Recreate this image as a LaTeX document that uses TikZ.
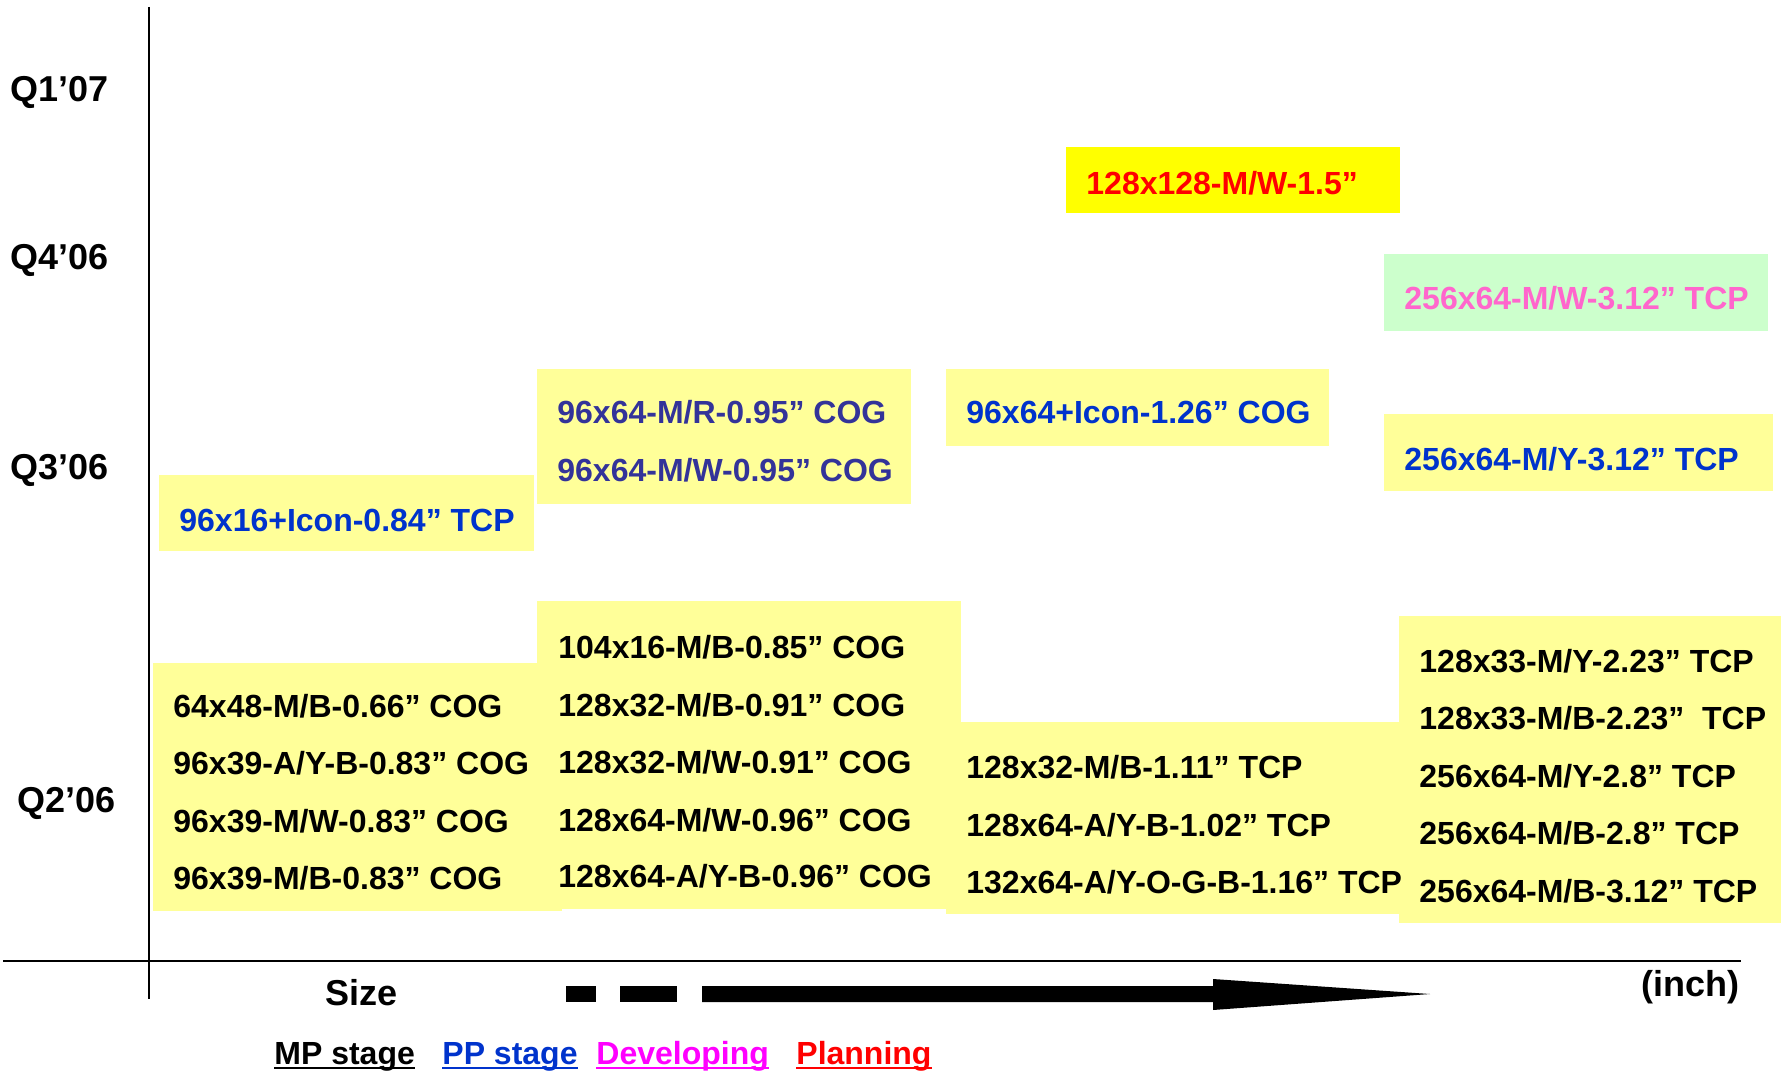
\documentclass[tikz,border=0pt]{standalone}
\usepackage{fontspec}
\setmainfont{Liberation Sans}
\definecolor{paleyel}{HTML}{FFFF99}
\definecolor{hotyel}{HTML}{FFFF00}
\definecolor{palegrn}{HTML}{CCFFCC}
\definecolor{ppblue}{HTML}{0033CC}
\definecolor{navy}{HTML}{333399}
\definecolor{devpink}{HTML}{FF66CC}
\definecolor{devmag}{HTML}{FF00FF}
\definecolor{planred}{HTML}{FF0000}
\begin{document}
\begin{tikzpicture}[x=0.5pt,y=-0.5pt,
  part/.style={font=\bfseries\fontsize{16}{19}\selectfont,anchor=base west},
  qlab/.style={font=\bfseries\fontsize{18}{21}\selectfont,anchor=base west},
  legend/.style={font=\bfseries\fontsize{16}{19}\selectfont,anchor=base west},
  box/.style={fill=paleyel}]
\tikzstyle{every node}+=[inner sep=0pt]
\useasboundingbox (0,0) rectangle (1781,1070);
% boxes
\fill[box] (1399,616) rectangle (1781,923);
\fill[box] (946,722) rectangle (1399,914);
\fill[box] (537,601) rectangle (961,909);
\fill[box] (153,663) rectangle (562,911);
\fill[box] (159,475) rectangle (534,551);
\fill[box] (537,369) rectangle (911,504);
\fill[box] (946,369) rectangle (1329,446);
\fill[box] (1384,414) rectangle (1773,491);
\fill[hotyel] (1066,147) rectangle (1400,213);
\fill[palegrn] (1384,254) rectangle (1768,331);
% axes
\draw[line width=1pt] (149,7) -- (149,999);
\draw[line width=1.2pt] (3,961) -- (1741,961);
\node[qlab] (q107) at (10,102) {Q1’07};
\node[qlab] (q406) at (10,269) {Q4’06};
\node[qlab] (q306) at (10,479) {Q3’06};
\node[qlab] (q206) at (17,812) {Q2’06};
% planning / developing
\node[part,text=planred] (p128) at (1086,194) {128x128-M/W-1.5”};
\node[part,text=devpink] (d256) at (1404,309) {256x64-M/W-3.12” TCP};
% pp stage
\node[part,text=ppblue] (pp96) at (179,531) {96x16+Icon-0.84” TCP};
\node[part,text=navy] (pp96r) at (557,423) {96x64-M/R-0.95” COG};
\node[part,text=navy] (pp96w) at (557,481) {96x64-M/W-0.95” COG};
\node[part,text=ppblue] (pp96i) at (966,423) {96x64+Icon-1.26” COG};
\node[part,text=ppblue] (pp256) at (1404,470) {256x64-M/Y-3.12” TCP};
% mp stage
\node[part] (a1) at (173,717) {64x48-M/B-0.66” COG};
\node[part] (a2) at (173,774) {96x39-A/Y-B-0.83” COG};
\node[part] (a3) at (173,832) {96x39-M/W-0.83” COG};
\node[part] (a4) at (173,889) {96x39-M/B-0.83” COG};
\node[part] (b1) at (558,658) {104x16-M/B-0.85” COG};
\node[part] (b2) at (558,716) {128x32-M/B-0.91” COG};
\node[part] (b3) at (558,773) {128x32-M/W-0.91” COG};
\node[part] (b4) at (558,831) {128x64-M/W-0.96” COG};
\node[part] (b5) at (558,887) {128x64-A/Y-B-0.96” COG};
\node[part] (c1) at (966,778) {128x32-M/B-1.11” TCP};
\node[part] (c2) at (966,836) {128x64-A/Y-B-1.02” TCP};
\node[part] (c3) at (966,893) {132x64-A/Y-O-G-B-1.16” TCP};
\node[part] (d1) at (1419,672) {128x33-M/Y-2.23” TCP};
\node[part] (d2) at (1419,729) {128x33-M/B-2.23”\ \ TCP};
\node[part] (d3) at (1419,787) {256x64-M/Y-2.8” TCP};
\node[part] (d4) at (1419,844) {256x64-M/B-2.8” TCP};
\node[part] (d5) at (1419,902) {256x64-M/B-3.12” TCP};
% size arrow
\node[qlab] (size) at (325,1005) {Size};
\node[qlab] (inch) at (1641,996) {(inch)};
\fill (566,986) rectangle (596,1002);
\fill (620,986) rectangle (677,1002);
\fill (702,986) -- (1213,986) -- (1213,979) -- (1430,994) -- (1213,1010) -- (1213,1002) -- (702,1002) -- cycle;
% legend
\node[legend] (mp) at (274,1064) {MP stage};
\node[legend,text=ppblue] (pp) at (442,1064) {PP stage};
\node[legend,text=devmag] (dev) at (596,1064) {Developing};
\node[legend,text=planred] (plan) at (796,1064) {Planning};
\draw[line width=1pt] ([yshift=-2pt]mp.base west) -- ([yshift=-2pt]mp.base east);
\draw[line width=1pt,ppblue] ([yshift=-2pt]pp.base west) -- ([yshift=-2pt]pp.base east);
\draw[line width=1pt,devmag] ([yshift=-2pt]dev.base west) -- ([yshift=-2pt]dev.base east);
\draw[line width=1pt,planred] ([yshift=-2pt]plan.base west) -- ([yshift=-2pt]plan.base east);
\end{tikzpicture}
\end{document}
